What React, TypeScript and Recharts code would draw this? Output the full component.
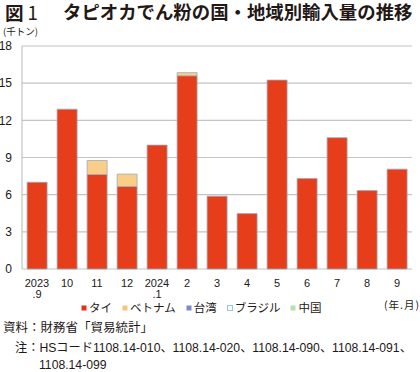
import React from 'react';
import { Bar, BarChart, CartesianGrid, XAxis, YAxis } from 'recharts';

// 年.月
const categories = ['2023.9', '10', '11', '12', '2024.1', '2', '3', '4', '5', '6', '7', '8', '9'];

// 千トン
const thai = [7.0, 12.9, 7.63, 6.66, 10.0, 15.6, 5.88, 4.47, 15.25, 7.3, 10.6, 6.33, 8.06];
const vietnam = [0, 0, 1.13, 1.0, 0, 0.25, 0, 0, 0, 0, 0, 0, 0];
const taiwan = [0, 0, 0, 0, 0, 0, 0, 0, 0, 0, 0, 0, 0];
const brazil = [0, 0, 0, 0, 0, 0, 0, 0, 0, 0, 0, 0, 0];
const china = [0, 0, 0, 0, 0, 0, 0, 0, 0, 0, 0, 0, 0];

const yTicks = [0, 3, 6, 9, 12, 15, 18];

const series = [
  { key: 'thai', name: 'タイ', color: '#E63D1B', icon: '#E62E1A', iconStroke: 'none' },
  { key: 'vietnam', name: 'ベトナム', color: '#F8CE88', icon: '#F7C57A', iconStroke: 'none' },
  { key: 'taiwan', name: '台湾', color: '#6C7FC4', icon: '#7A8CCB', iconStroke: 'none' },
  { key: 'brazil', name: 'ブラジル', color: '#E9F7F7', icon: '#ffffff', iconStroke: '#8CCFD3' },
  { key: 'china', name: '中国', color: '#B5DDB0', icon: '#B9DDB4', iconStroke: 'none' },
];

const data = categories.map((c, i) => ({
  month: c,
  thai: thai[i],
  vietnam: vietnam[i],
  taiwan: taiwan[i],
  brazil: brazil[i],
  china: china[i],
}));

const numFont = '"Liberation Sans", Arial, "Noto Sans CJK JP", sans-serif';
const jpFont = '"Noto Sans CJK JP", "Liberation Sans", sans-serif';
const ink = '#231815';

const MonthTick = (props: any) => {
  const { x, y, payload } = props;
  const [top, sub] = String(payload.value).split('.');
  return (
    <text x={x} y={y} textAnchor="middle" fill={ink} fontSize={11} fontFamily={numFont}>
      <tspan x={x} dy={18}>{top}</tspan>
      {sub && (
        <tspan x={x} dy={11}>
          .{sub}
        </tspan>
      )}
    </text>
  );
};

const App: React.FC = () => {
  return (
    <div
      style={{
        position: 'absolute',
        left: 0,
        top: 0,
        width: 420,
        height: 372,
        background: '#fff',
        color: ink,
        fontFamily: jpFont,
        overflow: 'hidden',
      }}
    >
      <div
        style={{
          position: 'absolute',
          left: 5,
          top: 1,
          fontSize: 18.6,
          fontWeight: 700,
          lineHeight: '21px',
          whiteSpace: 'nowrap',
        }}
      >
        図<span style={{ fontWeight: 400, marginLeft: 4 }}>1</span>
      </div>
      <div
        style={{
          position: 'absolute',
          left: 63,
          top: 1,
          fontSize: 18.4,
          fontWeight: 700,
          lineHeight: '21px',
          whiteSpace: 'nowrap',
        }}
      >
        タピオカでん粉の国・地域別輸入量の推移
      </div>
      <div style={{ position: 'absolute', left: 3, top: 26, fontSize: 9.5, lineHeight: '11px', whiteSpace: 'nowrap' }}>
        (千トン)
      </div>

      <div style={{ position: 'absolute', left: 0, top: 0 }}>
        <BarChart
          width={420}
          height={312}
          data={data}
          margin={{ top: 46, right: 8, bottom: 12, left: 1 }}
          barCategoryGap="17%"
        >
          <CartesianGrid horizontal={true} vertical={false} stroke="#c4c4c4" strokeWidth={1.2} />
          <XAxis
            dataKey="month"
            axisLine={false}
            tickLine={false}
            tickSize={0}
            tickMargin={0}
            height={31}
            interval={0}
            tick={<MonthTick />}
          />
          <YAxis
            width={21}
            domain={[0, 18]}
            ticks={yTicks}
            axisLine={{ stroke: '#c4c4c4', strokeWidth: 1.2 }}
            tickLine={false}
            tickMargin={4}
            tick={{ fill: ink, fontSize: 12, fontFamily: numFont }}
          />
          {series.map((s) => (
            <Bar
              key={s.key}
              dataKey={s.key}
              name={s.name}
              stackId="a"
              fill={s.color}
              stroke="#9eabb9"
              strokeWidth={0.8}
              isAnimationActive={false}
            />
          ))}
        </BarChart>
      </div>

      <div
        style={{
          position: 'absolute',
          left: 81,
          top: 302,
          display: 'flex',
          gap: 10,
          fontSize: 11.5,
          lineHeight: '11px',
          whiteSpace: 'nowrap',
        }}
      >
        {series.map((s) => (
          <div key={s.key} style={{ display: 'flex', alignItems: 'center' }}>
            <svg width={6} height={6} style={{ marginRight: 2 }}>
              <rect
                x={0.5}
                y={0.5}
                width={5}
                height={5}
                fill={s.icon}
                stroke={s.iconStroke}
                strokeWidth={1}
              />
            </svg>
            <span>{s.name}</span>
          </div>
        ))}
      </div>
      <div
        style={{
          position: 'absolute',
          left: 384,
          top: 299,
          fontSize: 10.5,
          lineHeight: '12px',
          letterSpacing: 1,
          whiteSpace: 'nowrap',
        }}
      >
        (年.月)
      </div>

      <div style={{ position: 'absolute', left: 3, top: 318, fontSize: 12.5, lineHeight: '18px', whiteSpace: 'nowrap' }}>
        資料：財務省「貿易統計」
      </div>
      <div style={{ position: 'absolute', left: 15, top: 338, fontSize: 12.2, lineHeight: '18px', whiteSpace: 'nowrap' }}>
        注：<span style={{ fontFamily: numFont }}>HS</span>コード
        <span style={{ fontFamily: numFont }}>1108.14-010</span>、
        <span style={{ fontFamily: numFont }}>1108.14-020</span>、
        <span style={{ fontFamily: numFont }}>1108.14-090</span>、
        <span style={{ fontFamily: numFont }}>1108.14-091</span>、
      </div>
      <div style={{ position: 'absolute', left: 39, top: 356, fontSize: 12.2, lineHeight: '18px', fontFamily: numFont }}>
        1108.14-099
      </div>
    </div>
  );
};

export default App;
